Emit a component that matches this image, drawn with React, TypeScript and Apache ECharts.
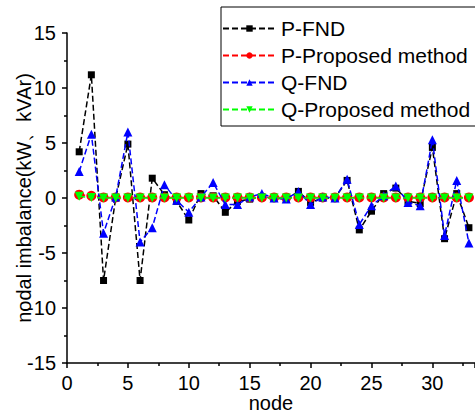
import React, { useEffect, useRef } from "react";
import * as echarts from "echarts";

const nodes = [1, 2, 3, 4, 5, 6, 7, 8, 9, 10, 11, 12, 13, 14, 15, 16, 17, 18, 19, 20, 21, 22, 23, 24, 25, 26, 27, 28, 29, 30, 31, 32, 33];
const pFND = [4.2, 11.2, -7.5, 0.0, 4.9, -7.5, 1.8, 0.3, -0.3, -2.0, 0.4, 0.2, -1.3, -0.3, -0.1, 0.1, 0.0, -0.1, 0.6, -0.4, 0.0, 0.0, 1.6, -2.9, -1.2, 0.4, 0.9, -0.3, -0.5, 4.6, -3.7, 0.4, -2.7];
const pProposed = [0.3, 0.2, 0.05, 0.05, 0.05, 0.05, 0.05, 0.05, 0.05, 0.05, 0.05, 0.05, 0.05, 0.05, 0.05, 0.05, 0.05, 0.05, 0.05, 0.05, 0.05, 0.05, 0.05, 0.05, 0.05, 0.05, 0.05, 0.05, 0.05, 0.05, 0.05, 0.05, 0.05];
const qFND = [2.4, 5.8, -3.2, 0.1, 6.0, -4.0, -2.7, 1.2, -0.2, -1.3, 0.1, 1.4, -0.6, -0.6, 0.1, 0.4, 0.0, -0.1, 0.6, -0.6, 0.1, 0.0, 1.7, -2.4, -0.7, 0.2, 1.1, -0.4, -0.7, 5.3, -3.4, 1.6, -4.1];
const qProposed = [0.15, 0.05, 0, 0, 0, 0, 0, 0, 0, 0, 0, 0, 0, 0, 0, 0, 0, 0, 0, 0, 0, 0, 0, 0, 0, 0, 0, 0, 0, 0, 0, 0, 0];
const seriesNames = ["P-FND", "P-Proposed method", "Q-FND", "Q-Proposed method"];

const FONT = "'Liberation Sans', Arial, sans-serif";

export default function App() {
  const ref = useRef<HTMLDivElement>(null);
  useEffect(() => {
    if (!ref.current) return;
    const chart = echarts.init(ref.current, undefined, { renderer: "svg" });
    const pair = (arr: number[]) => nodes.map((n, i) => [n, arr[i]]);
    const mk = (name: string, data: number[], color: string, symbol: string, size: number, rotate = 0, z = 2) => ({
      name,
      type: "line",
      data: pair(data),
      symbol,
      symbolSize: size,
      symbolRotate: rotate,
      showSymbol: true,
      z,
      lineStyle: { color, width: 1.5, type: [6, 3] },
      itemStyle: { color, borderWidth: 0 },
    });
    chart.setOption({
      animation: false,
      textStyle: { fontFamily: FONT },
      grid: { left: 67, right: 0, top: 33, bottom: 50, containLabel: false, outerBoundsMode: "none" },
      legend: {
        orient: "vertical",
        left: 221,
        top: 7,
        padding: [11, 10, 6, 1],
        itemGap: 6,
        itemWidth: 53,
        itemHeight: 8,
        borderColor: "#000",
        borderWidth: 1,
        borderRadius: 0,
        textStyle: { fontSize: 21, color: "#000", fontFamily: FONT },
        data: seriesNames,
      },
      xAxis: {
        type: "value",
        min: 0,
        max: 33.5,
        interval: 5,
        name: "node",
        nameLocation: "middle",
        nameGap: 30,
        nameMoveOverlap: false,
        nameTextStyle: { fontSize: 20, lineHeight: 20, color: "#000", fontFamily: FONT },
        axisLine: { show: true, onZero: false, lineStyle: { color: "#000", width: 1.5 } },
        axisTick: { show: true, inside: false, length: 5, lineStyle: { color: "#000", width: 1.5 } },
        minorTick: { show: true, splitNumber: 2, length: 3, lineStyle: { color: "#000", width: 1.5 } },
        axisLabel: { fontSize: 20, lineHeight: 20, color: "#000", margin: 10, fontFamily: FONT, showMaxLabel: false },
        splitLine: { show: false },
      },
      yAxis: {
        type: "value",
        min: -15,
        max: 15,
        interval: 5,
        name: "nodal imbalance(kW、kVAr)",
        nameLocation: "middle",
        nameGap: 33,
        nameMoveOverlap: false,
        nameTextStyle: { fontSize: 20, color: "#000", fontFamily: FONT },
        axisLine: { show: true, onZero: false, lineStyle: { color: "#000", width: 1.5 } },
        axisTick: { show: true, inside: false, length: 5, lineStyle: { color: "#000", width: 1.5 } },
        minorTick: { show: true, splitNumber: 2, length: 3, lineStyle: { color: "#000", width: 1.5 } },
        axisLabel: { fontSize: 20, color: "#000", margin: 11, fontFamily: FONT },
        splitLine: { show: false },
      },
      series: [
        mk(seriesNames[0], pFND, "#000000", "rect", 7, 0, 2),
        mk(seriesNames[1], pProposed, "#ff0000", "circle", 10, 0, 3),
        mk(seriesNames[2], qFND, "#0000ff", "triangle", 9, 0, 4),
        mk(seriesNames[3], qProposed, "#00ff00", "triangle", 9, 180, 5),
      ],
    });
    return () => chart.dispose();
  }, []);
  return <div ref={ref} style={{ width: 475, height: 413, position: "absolute", left: 0, top: 0 }} />;
}
